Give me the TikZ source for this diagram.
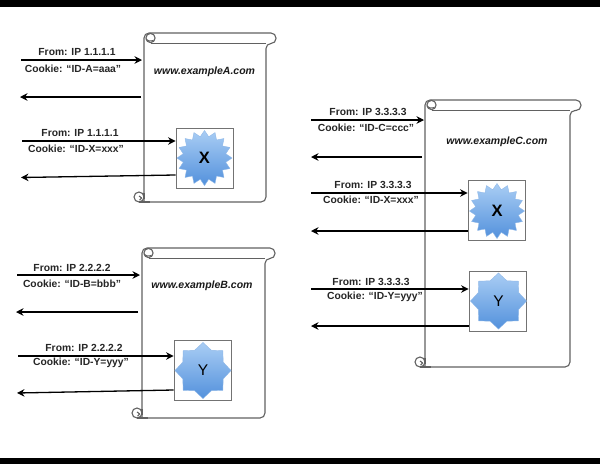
\documentclass[tikz,border=0pt]{standalone}
\usepackage{fontspec}
\setmainfont{Liberation Sans}
\usetikzlibrary{arrows.meta,shapes.geometric}
\definecolor{burstTop}{HTML}{A9CDF4}
\definecolor{burstBot}{HTML}{5391DC}
\definecolor{burstEdge}{HTML}{8FB8E8}
\tikzset{
  flow/.style={draw=black,line width=1.3pt,-{Stealth[length=7.5pt,width=7.5pt,inset=2.5pt]}},
  lbl/.style={font=\fontsize{10.3}{12}\selectfont\bfseries,text=black!85,inner sep=0pt},
  site/.style={font=\fontsize{10.5}{13}\selectfont\bfseries\itshape,text=black!90,inner sep=0pt},
  scrollline/.style={draw=black!62,line width=1.1pt,fill=white,line join=round},
  widgetbox/.style={draw=black!55,line width=.8pt,fill=white,inner sep=0pt,minimum width=57pt,minimum height=60.5pt},
  burst/.style={star,draw=burstEdge,line width=.4pt,top color=burstTop,bottom color=burstBot,inner sep=0pt,text=black},
  burstX/.style={burst,star points=16,star point ratio=1.27,minimum size=55pt,font=\fontsize{16.5}{19}\selectfont\bfseries},
  burstY/.style={burst,star points=8,star point ratio=1.28,minimum size=56pt,font=\fontsize{15.5}{19}\selectfont},
}
% left, top, body width, bar width, height
\newcommand{\scrollshape}[5]{%
  \begin{scope}[shift={(#1,#2)}]
    \path[scrollline,rounded corners=5pt] (0,#5) -- (0,0) -- (#4,0) -- (#4,10.5) -- (#3,10.5) -- (#3,#5) -- (0,#5);
    \draw[scrollline,fill=none] (#3,10.5) -- (6.5,10.5);
    \draw[scrollline,fill=white] (6.5,5) circle[radius=4.6pt];
    \draw[scrollline,fill=none] plot[smooth] coordinates {(2,6) (5,8) (9.5,7.5)};
    \draw[scrollline,fill=white] (-5,{#5-5}) circle[radius=5pt];
    \draw[scrollline,fill=none] plot[smooth] coordinates {(-5,{#5-6}) (-2.5,{#5-4}) (-4.5,{#5-2})};
    \draw[scrollline,fill=none] (-5,#5) -- (6,#5);
    \draw[scrollline,fill=none] (0,{#5-9}) -- (0,{#5-3});
  \end{scope}}
\begin{document}
\begin{tikzpicture}[x=1pt,y=-1pt]
\useasboundingbox (0,0) rectangle (600,464);
\fill[white] (0,0) rectangle (600,464);
\fill[black] (0,0) rectangle (600,7);
\fill[black] (0,458) rectangle (600,464);

% scrolls
\scrollshape{144}{33}{122}{132}{169}
\scrollshape{142}{248}{123}{133}{170}
\scrollshape{425}{100}{145}{156}{267}

% widgets
\node[widgetbox] (boxAX) at (204.5,158.5) {};
\node[burstX] (starAX) at (204.5,158) {X};
\node[widgetbox] (boxBY) at (202.5,370.5) {};
\node[burstY] (starBY) at (203,370.5) {Y};
\node[widgetbox] (boxCX) at (496.5,210.5) {};
\node[burstX] (starCX) at (497,211) {X};
\node[widgetbox] (boxCY) at (497.5,301.5) {};
\node[burstY] (starCY) at (498.5,301) {Y};

% site names
\node[site] (siteA) at (204.5,71.5) {www.exampleA.com};
\node[site] (siteB) at (202,286) {www.exampleB.com};
\node[site] (siteC) at (497,142) {www.exampleC.com};

% labels A
\node[lbl] (fa1) at (77,52.5) {From: IP 1.1.1.1};
\node[lbl] (ca1) at (73,68.5) {Cookie: “ID-A=aaa”};
\node[lbl] (fa2) at (80,133) {From: IP 1.1.1.1};
\node[lbl] (ca2) at (76,149) {Cookie: “ID-X=xxx”};
% labels B
\node[lbl] (fb1) at (72,268) {From: IP 2.2.2.2};
\node[lbl] (cb1) at (72,284) {Cookie: “ID-B=bbb”};
\node[lbl] (fb2) at (84,348) {From: IP 2.2.2.2};
\node[lbl] (cb2) at (81,363) {Cookie: “ID-Y=yyy”};
% labels C
\node[lbl] (fc1) at (368,112) {From: IP 3.3.3.3};
\node[lbl] (cc1) at (366,128) {Cookie: “ID-C=ccc”};
\node[lbl] (fc2) at (373,185) {From: IP 3.3.3.3};
\node[lbl] (cc2) at (371,199.5) {Cookie: “ID-X=xxx”};
\node[lbl] (fc3) at (371,282) {From: IP 3.3.3.3};
\node[lbl] (cc3) at (375,296.5) {Cookie: “ID-Y=yyy”};

% free ends
\coordinate (a1) at (21,60);   \coordinate (a1e) at (142,60);
\coordinate (a2) at (141,97);  \coordinate (a2e) at (20,97);
\coordinate (a3) at (22,141);
\coordinate (a4) at (176,175); \coordinate (a4e) at (21,177.5);
\coordinate (b1) at (17,275);  \coordinate (b1e) at (140,275);
\coordinate (b2) at (138,312); \coordinate (b2e) at (16,312);
\coordinate (b3) at (18,356);
\coordinate (b4) at (174,390); \coordinate (b4e) at (17,393);
\coordinate (c1) at (311,120); \coordinate (c1e) at (424,120);
\coordinate (c2) at (422,157); \coordinate (c2e) at (311,157);
\coordinate (c3) at (311,193);
\coordinate (c4) at (468,231); \coordinate (c4e) at (311,231);
\coordinate (c5) at (311,289);
\coordinate (c6) at (469,326); \coordinate (c6e) at (311,326);

% connectors
\draw[flow] (a1) -- (a1e);
\draw[flow] (a2) -- (a2e);
\draw[flow] (a3) -- (a3 -| boxAX.west);
\draw[flow] (a4 -| boxAX.west) -- (a4e);
\draw[flow] (b1) -- (b1e);
\draw[flow] (b2) -- (b2e);
\draw[flow] (b3) -- (b3 -| boxBY.west);
\draw[flow] (b4 -| boxBY.west) -- (b4e);
\draw[flow] (c1) -- (c1e);
\draw[flow] (c2) -- (c2e);
\draw[flow] (c3) -- (c3 -| boxCX.west);
\draw[flow] (c4 -| boxCX.west) -- (c4e);
\draw[flow] (c5) -- (c5 -| boxCY.west);
\draw[flow] (c6 -| boxCY.west) -- (c6e);
\end{tikzpicture}
\end{document}
